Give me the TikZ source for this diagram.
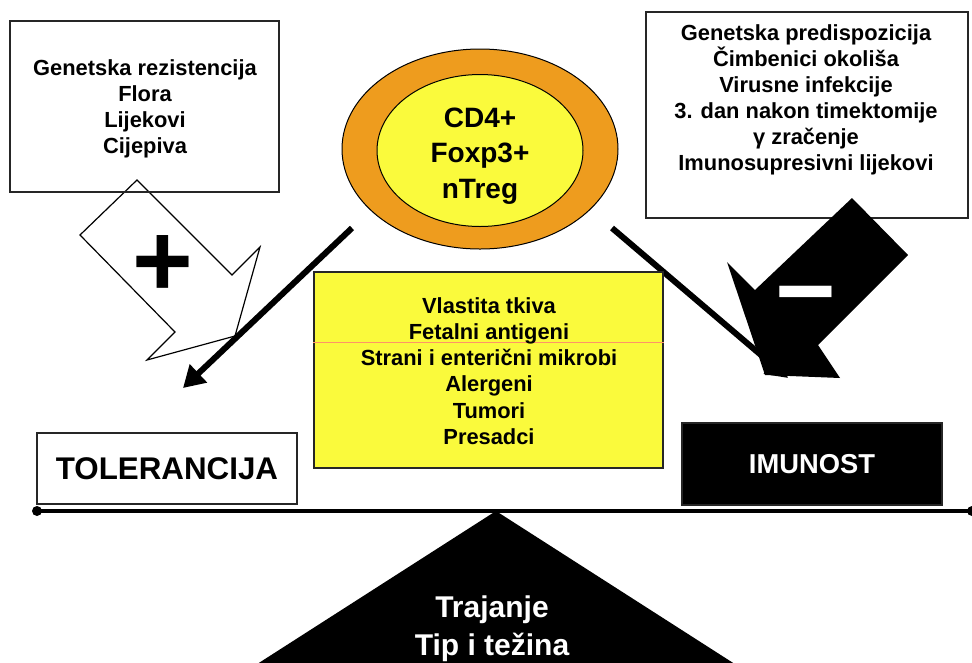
\documentclass[tikz,border=0pt]{standalone}
\usepackage{fontspec}
\setmainfont{Liberation Sans}
\usetikzlibrary{arrows.meta,shapes.geometric}

\definecolor{ringorange}{RGB}{238,156,30}
\definecolor{cellyellow}{RGB}{250,250,60}

\tikzset{every picture/.style={line width=0.75pt}}
\tikzset{
  infobox/.style={draw=black!85, line width=1pt, inner sep=0pt},
  listtext/.style={align=center, inner sep=0.75pt, font=\bfseries\fontsize{16.4}{19.6}\selectfont},
  celltext/.style={align=center, font=\bfseries\fontsize{21}{26.6}\selectfont},
  sidetext/.style={font=\bfseries\fontsize{23.5}{28}\selectfont},
  signtext/.style={inner sep=0pt, font=\bfseries\fontsize{78}{78}\selectfont},
  thinarrow/.style={line width=4.5pt, -{Triangle[length=16pt,width=18pt]}},
}

\begin{document}
\begin{tikzpicture}[x=0.75pt,y=0.75pt,yscale=-1,xscale=1]
\useasboundingbox (0,0) rectangle (972,662);
\clip (0,0) rectangle (972,662);

%Shape: Arrow (plus)
\draw [fill=white, line width=0.9pt] (137,180) -- (232,275) -- (260,247) -- (235,336) -- (147,360) -- (175,332) -- (80,235) -- cycle ;
% Text Node
\node [signtext] (plus) at (163,266) {+};

%Shape: Rectangle
\node [infobox, minimum width=201.75pt, minimum height=128.25pt] (helpbox) at (144.5,106.5) {};
% Text Node
\node [listtext] (helptext) at (145,109) {Genetska rezistencija\\Flora\\Lijekovi\\Cijepiva};

%Shape: Rectangle
\node [infobox, fill=white, minimum width=241.5pt, minimum height=154.5pt] (riskbox) at (807,115) {};
% Text Node
\node [listtext] (risktext) at (806,100) {Genetska predispozicija\\Čimbenici okoliša\\Virusne infekcije\\3. dan nakon timektomije\\γ zračenje\\Imunosupresivni lijekovi};

%Shape: Arrow (minus)
\fill (852,198) -- (908,255) -- (818,345) -- (840,378) -- (765,375) -- (727,262) -- (755,290) -- cycle ;
% Text Node
\node [signtext, white] (minus) at (806,306) {−};

%Shape: Ellipse
\node [ellipse, draw, fill=ringorange, minimum width=207pt, minimum height=150pt, inner sep=0pt] (ring) at (480,149) {};
\node [ellipse, draw, fill=cellyellow, minimum width=154.5pt, minimum height=114pt, inner sep=0pt] (tcell) at (480,150.5) {};
% Text Node
\node [celltext] (tcelltext) at (480,156) {CD4+\\Foxp3+\\nTreg};

%Straight Lines
\coordinate (lstart) at (352,228);
\coordinate (ltip) at (183,388);
\coordinate (rstart) at (612,228);
\coordinate (rtip) at (788,378);
\draw [thinarrow] (lstart) -- (ltip) ;
\draw [thinarrow] (rstart) -- (rtip) ;

%Shape: Rectangle
\node [infobox, fill=cellyellow, minimum width=261.75pt, minimum height=147pt] (antigens) at (488.5,370) {};
\draw [red!40!orange!60, line width=0.4pt] ([yshift=-21pt]antigens.west) -- ([yshift=-21pt]antigens.east) ;
% Text Node
\node [listtext] (antitext) at (489,371) {Vlastita tkiva\\Fetalni antigeni\\Strani i enterični mikrobi\\Alergeni\\Tumori\\Presadci};

%Shape: Rectangle
\node [infobox, fill=white, minimum width=195pt, minimum height=53.25pt, sidetext] (tol) at (167,468.5) {TOLERANCIJA};
\node [infobox, fill=black, minimum width=195pt, minimum height=61.5pt, text=white, font=\bfseries\fontsize{20.5}{24}\selectfont] (imu) at (812,464) {IMUNOST};

%Straight Lines
\coordinate (balL) at (37,511);
\coordinate (balR) at (972,511);
\draw [line width=3pt] (balL) -- (balR) ;
\fill (balL) circle (3.75pt) ;
\fill (balR) circle (3.75pt) ;

%Shape: Triangle
\fill (496,511) -- (201,700) -- (791,700) -- cycle ;
% Text Node
\node [celltext, white, font=\bfseries\fontsize{22.5}{28.5}\selectfont] (weight) at (492,629) {Trajanje\\Tip i težina};

\end{tikzpicture}
\end{document}
